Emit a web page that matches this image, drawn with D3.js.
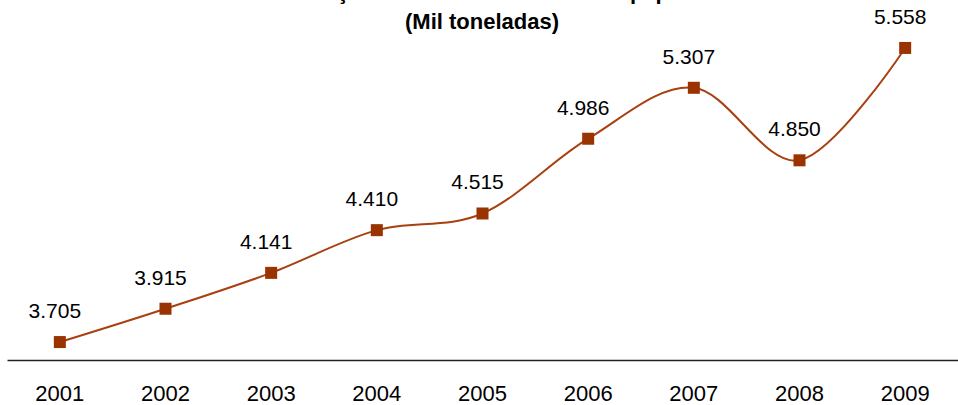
<!DOCTYPE html>
<html>
<head>
<meta charset="utf-8">
<script src="https://cdn.jsdelivr.net/npm/d3@7"></script>
<style>
  body { margin: 0; background: #fff; }
  svg { display: block; }
  text { font-family: Arial, "Liberation Sans", sans-serif; fill: #000; }
</style>
</head>
<body>
<script>

const years = ['2001', '2002', '2003', '2004', '2005', '2006', '2007', '2008', '2009'];
const values = [3705, 3915, 4141, 4410, 4515, 4986, 5307, 4850, 5558];
const titleLines = ['Evolução das vendas internas de papel', '(Mil toneladas)'];

const width = 958;
const height = 405;
const margin = { top: 0, right: 0, bottom: 45, left: 7 };

const fmt = v => d3.format(',')(v).replace(/,/g, '.');

const svg = d3.select('body').append('svg')
  .attr('width', width)
  .attr('height', height);

const x = d3.scaleBand()
  .domain(years)
  .range([margin.left, width - margin.right]);

const y = d3.scaleLinear()
  .domain([3592, 5860])
  .range([height - margin.bottom, margin.top]);

// title, first line runs off the top like in the original
svg.append('text')
  .attr('x', 482)
  .attr('y', -1)
  .attr('text-anchor', 'middle')
  .style('font-size', '22px')
  .style('font-weight', 'bold')
  .text(titleLines[0]);

svg.append('text')
  .attr('x', 482)
  .attr('y', 29)
  .attr('text-anchor', 'middle')
  .style('font-size', '22px')
  .style('font-weight', 'bold')
  .text(titleLines[1]);

// x axis
const xAxis = svg.append('g')
  .attr('transform', `translate(0,${height - margin.bottom})`)
  .call(d3.axisBottom(x).tickSize(0).tickPadding(25));

xAxis.select('.domain')
  .attr('stroke', '#222')
  .attr('stroke-width', 1.5);

xAxis.selectAll('text')
  .style('font-size', '22px')
  .style('font-family', 'Arial, "Liberation Sans", sans-serif')
  .attr('fill', '#000');

const cx = d => x(d) + x.bandwidth() / 2;

const line = d3.line()
  .x((d, i) => cx(years[i]))
  .y(d => y(d))
  .curve(d3.curveCardinal.tension(0));

svg.append('path')
  .datum(values)
  .attr('d', line)
  .attr('fill', 'none')
  .attr('stroke', '#a8400f')
  .attr('stroke-width', 2);

svg.selectAll('.marker')
  .data(values)
  .enter().append('rect')
  .attr('class', 'marker')
  .attr('x', (d, i) => cx(years[i]) - 6)
  .attr('y', d => y(d) - 6)
  .attr('width', 12)
  .attr('height', 12)
  .attr('fill', '#993300');

svg.selectAll('.label')
  .data(values)
  .enter().append('text')
  .attr('class', 'label')
  .attr('x', (d, i) => cx(years[i]) - 5)
  .attr('y', d => y(d) - 24)
  .attr('text-anchor', 'middle')
  .style('font-size', '21px')
  .text(d => fmt(d));

</script>
</body>
</html>
